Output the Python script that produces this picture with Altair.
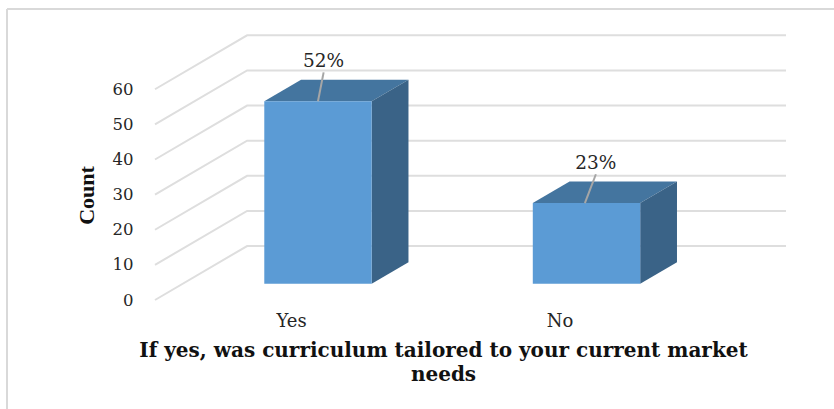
import altair as alt
import pandas as pd

categories = ["Yes", "No"]
counts = [52, 23]
labels = ["52%", "23%"]
ticks = [0, 10, 20, 30, 40, 50, 60]

# Faux-3D projection, in scale units: category axis horizontally, count axis vertically.
WALL_DX, WALL_DY = 0.343, 15.37
BAR_DX, BAR_DY = 0.137, 6.12
BAR_HALF = 0.2
BAR_BASE = 4.6
X_MIN, X_MAX = 0.393, 2.743
LABEL_LIFT, LEADER_LIFT = 11.5, 8.2
LEADER_LEAN = [0.021, 0.035]
LEADER_FOOT = [0.0, -0.006]
AXIS_LABEL_SHIFT = -0.1

SERIF = "DejaVu Serif"
TEXT = "#262626"
GRID = "#dedede"

x_scale = alt.Scale(domain=[X_MIN, X_MAX], range=[0, 631], nice=False, zero=False)
y_scale = alt.Scale(domain=[0, 80], range=[281, 0], nice=False, zero=False)

# Floor and back-wall gridlines: front edge, back corner, far end of the wall.
grid_rows = []
for t in ticks:
    grid_rows += [
        {"tick": t, "step": 0, "x": X_MIN, "y": t},
        {"tick": t, "step": 1, "x": X_MIN + WALL_DX, "y": t + WALL_DY},
        {"tick": t, "step": 2, "x": X_MAX, "y": t + WALL_DY},
    ]

front, top, side, leader, text = [], [], [], [], []
for i, (cat, n, lab) in enumerate(zip(categories, counts, labels)):
    c = i + 1
    left, right = c - BAR_HALF, c + BAR_HALF
    y0, y1 = BAR_BASE, BAR_BASE + n
    front.append({"cat": cat, "x": left, "x2": right, "y": y0, "y2": y1})
    top += [
        {"cat": cat, "y": y1, "x": left, "x2": right},
        {"cat": cat, "y": y1 + BAR_DY, "x": left + BAR_DX, "x2": right + BAR_DX},
    ]
    side += [
        {"cat": cat, "x": right, "y": y0, "y2": y1},
        {"cat": cat, "x": right + BAR_DX, "y": y0 + BAR_DY, "y2": y1 + BAR_DY},
    ]
    leader += [
        {"cat": cat, "step": 0, "x": c + LEADER_FOOT[i], "y": y1},
        {"cat": cat, "step": 1, "x": c + LEADER_LEAN[i], "y": y1 + LEADER_LIFT},
    ]
    text.append({"cat": cat, "label": lab, "x": c + LEADER_LEAN[i], "y": y1 + LABEL_LIFT})

label_expr = f"datum.value < 1.5 ? '{categories[0]}' : '{categories[1]}'"

x_axis = alt.Axis(
    values=[1 + AXIS_LABEL_SHIFT, 2 + AXIS_LABEL_SHIFT],
    labelExpr=label_expr,
    domain=False, ticks=False, grid=False,
    labelPadding=12, labelFont=SERIF, labelFontSize=18, labelColor=TEXT, labelAngle=0,
    title=["If yes, was curriculum  tailored to your current market", "needs"],
    titleFont=SERIF, titleFontWeight="bold", titleFontSize=20, titleColor="#111111",
    titleX=288, titleY=50, titleLineHeight=24, titleAlign="center", titleBaseline="middle",
)
y_axis = alt.Axis(
    values=ticks,
    domain=False, ticks=False, grid=False,
    labelPadding=22, labelFont=SERIF, labelFontSize=16.5, labelColor=TEXT,
    title="Count",
    titleFont="Liberation Serif", titleFontWeight="bold", titleFontSize=22, titleColor="#111111",
    titleX=-69, titleY=176, titleAngle=270, titleAlign="center", titleBaseline="middle",
)

one_row = pd.DataFrame({"a": [0]})
frame_h = alt.Chart(one_row).mark_rule(color="#d9d9d9", strokeWidth=2).encode(
    x=alt.value(-148), x2=alt.value(679), y=alt.value(-10)
)
frame_v = alt.Chart(one_row).mark_rule(color="#d9d9d9", strokeWidth=2).encode(
    x=alt.value(-148), y=alt.value(-10), y2=alt.value(390)
)

X = alt.X("x:Q", scale=x_scale, axis=x_axis)
Y = alt.Y("y:Q", scale=y_scale, axis=y_axis)

grid = alt.Chart(pd.DataFrame(grid_rows)).mark_line(color=GRID, strokeWidth=2).encode(
    x=X, y=Y, detail="tick:N", order="step:Q"
)
top_face = alt.Chart(pd.DataFrame(top)).mark_area(orient="horizontal", color="#44759f").encode(
    y=Y, x=X, x2="x2:Q", detail="cat:N"
)
side_face = alt.Chart(pd.DataFrame(side)).mark_area(orient="vertical", color="#3a6387").encode(
    x=X, y=Y, y2="y2:Q", detail="cat:N"
)
front_face = alt.Chart(pd.DataFrame(front)).mark_rect(color="#5b9bd5").encode(
    x=X, x2="x2:Q", y=Y, y2="y2:Q"
)
leaders = alt.Chart(pd.DataFrame(leader)).mark_line(color="#a6a6a6", strokeWidth=2).encode(
    x=X, y=Y, detail="cat:N", order="step:Q"
)
value_text = alt.Chart(pd.DataFrame(text)).mark_text(
    font=SERIF, fontSize=18.5, color=TEXT, align="center", baseline="middle"
).encode(x=X, y=Y, text="label:N")

chart = alt.layer(
    frame_h, frame_v, grid, top_face, side_face, front_face, leaders, value_text
).properties(
    width=631,
    height=281,
    padding={"left": 155, "top": 19, "right": 48, "bottom": 109},
    autosize=alt.AutoSizeParams(type="none"),
    background="white",
).configure_view(stroke=None)

chart.save("out.html", embed_options={"renderer": "svg", "actions": False})
